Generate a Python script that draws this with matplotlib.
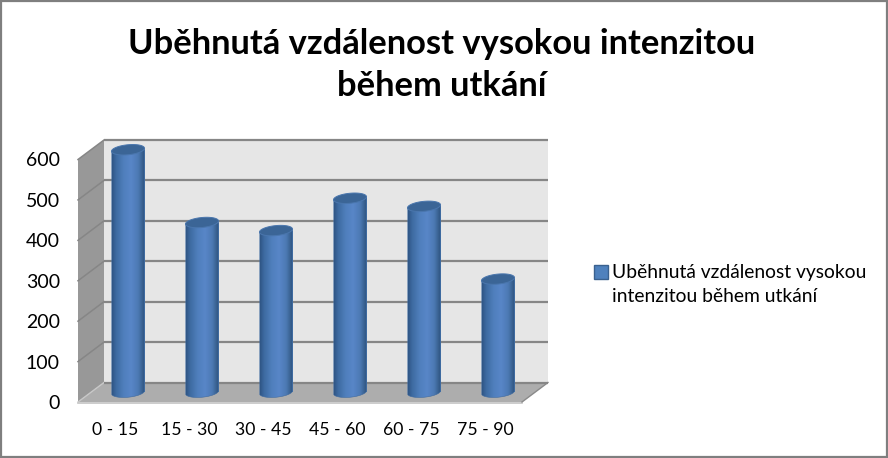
import numpy as np
import matplotlib
matplotlib.use("Agg")
import matplotlib.pyplot as plt
from matplotlib.patches import Polygon, Patch, Rectangle
from matplotlib.colors import to_rgb

categories = ["0 - 15", "15 - 30", "30 - 45", "45 - 60", "60 - 75", "75 - 90"]
values = [600, 420, 400, 480, 460, 280]
series_name = "Uběhnutá vzdálenost vysokou\nintenzitou během utkání"
title = "Uběhnutá vzdálenost vysokou intenzitou\nběhem utkání"
yticks = [0, 100, 200, 300, 400, 500, 600]

plt.rcParams["font.family"] = ["Lato", "DejaVu Sans"]
W, H = 888, 458
fig = plt.figure(figsize=(W / 100, H / 100), dpi=100, facecolor="white")
ax = fig.add_axes([78 / W, (H - 402) / H, 444 / W, 242.5 / H])
ax.set_xlim(-0.5, 5.5)
ax.set_ylim(0, 600)
ax.patch.set_visible(False)
for s in ax.spines.values():
    s.set_visible(False)

px_x = 1 / 74.0            # data units per pixel, horizontally
px_y = 600 / 242.5         # data units per pixel, vertically
dx, dy = 26 * px_x, 19.5 * px_y   # depth of the 3D box
x0, x1 = -0.5, 5.5

# walls and floor
ax.add_patch(Polygon([(x0 + dx, dy), (x1 + dx, dy), (x1 + dx, 600 + dy), (x0 + dx, 600 + dy)],
                     fc="#e6e6e6", ec="none", clip_on=False, zorder=1))
ax.add_patch(Polygon([(x0, 0), (x0 + dx, dy), (x0 + dx, 600 + dy), (x0, 600)],
                     fc="#989898", ec="none", clip_on=False, zorder=1))
ax.add_patch(Polygon([(x0, 0), (x1, 0), (x1 + dx, dy), (x0 + dx, dy)],
                     fc="#adadad", ec="none", clip_on=False, zorder=1))
ax.plot([x0, x1], [-0.8 * px_y] * 2, color="#c4c4c4", lw=1.2, clip_on=False, zorder=1.5)
ax.plot([x0, x0 + dx], [0, dy], color="#c8c8c8", lw=1.0, clip_on=False, zorder=1.5)
ax.plot([x1, x1 + dx], [0, dy], color="#8a8a8a", lw=1.0, clip_on=False, zorder=1.5)
for t in yticks:
    ax.plot([x0 + dx, x1 + dx], [t + dy] * 2, color="#868686", lw=1.6, clip_on=False, zorder=2,
            solid_capstyle="butt")
    if t:
        ax.plot([x0, x0 + dx], [t, t + dy], color="#868686", lw=1.1, clip_on=False, zorder=2)

# cylinders
hw = 16.5 * px_x
eb = 5 * px_y
tilt = 1.5 * px_y
xs = np.arange(len(values)) + dx / 2
base = dy / 2
ax.bar(xs, values, width=2 * hw, bottom=base, color="#4f81bd", zorder=3, clip_on=False)

stops = [(0.0, "#2f5585"), (0.12, "#3d6aa0"), (0.35, "#4f7fbc"), (0.58, "#5886c8"),
         (0.8, "#4c79b3"), (0.93, "#38608f"), (1.0, "#2e5282")]
grad = np.array([[np.interp(np.linspace(0, 1, 128), [s[0] for s in stops],
                            [to_rgb(s[1])[c] for s in stops]) for c in range(3)]])
grad = np.transpose(grad[0], (1, 0))[None, :, :]

t_low = np.linspace(np.pi, 2 * np.pi, 40)
t_all = np.linspace(0, 2 * np.pi, 80)
for xc, v in zip(xs, values):
    top = base + v
    lower = np.c_[xc + hw * np.cos(t_low), base + eb * np.sin(t_low) + tilt * np.cos(t_low)]
    upper = np.c_[xc + hw * np.cos(t_low[::-1]), top + tilt * np.cos(t_low[::-1])]
    body = Polygon(np.r_[lower, upper], fc="none", ec="#3f6a9f", lw=0.4, clip_on=False, zorder=4.1)
    ax.add_patch(body)
    im = ax.imshow(grad, extent=(xc - hw, xc + hw, base - 2 * eb, top + 2 * eb), aspect="auto",
                   interpolation="bilinear", zorder=4)
    im.set_clip_box(fig.bbox)
    im.set_clip_path(body)
    ell = np.c_[xc + hw * np.cos(t_all), top + eb * np.sin(t_all) + tilt * np.cos(t_all)]
    ax.add_patch(Polygon(ell, fc="#3b6596", ec="#4a76ad", lw=0.7, clip_on=False, zorder=5))
ax.set_xlim(x0, x1)
ax.set_ylim(0, 600)

# axes text
ax.set_xticks(range(len(categories)), categories)
ax.set_yticks(yticks)
ax.tick_params(axis="x", length=0, pad=14.2, labelsize=12.7, labelcolor="black")
ax.tick_params(axis="y", length=0, pad=13, labelsize=14, labelcolor="black")

fig.text(442 / W, 1 - 65 / H, title, ha="center", va="center", fontsize=24.8, fontweight="bold",
         color="black", linespacing=1.37)

leg = fig.legend(handles=[Patch(fc="#4f81bd", ec="#3a618f", lw=1, label=series_name)],
                 loc="center left", bbox_to_anchor=(594 / W, 1 - 284.5 / H), frameon=False,
                 fontsize=13.85, handlelength=0.73, handleheight=0.73, handletextpad=0.22,
                 labelspacing=0, borderpad=0, borderaxespad=0)
leg.get_texts()[0].set_linespacing(1.52)
handle = leg.legend_handles[0]
handle.set_y(handle.get_y() + 9.0)   # square sits beside the first line of the label

fig.add_artist(Rectangle((0.5 / W, 1 / H), (W - 2) / W, (H - 2) / H, transform=fig.transFigure,
                         fc="none", ec="#7f7f7f", lw=1.6))
fig.savefig("out.png", dpi=100, facecolor="white")
